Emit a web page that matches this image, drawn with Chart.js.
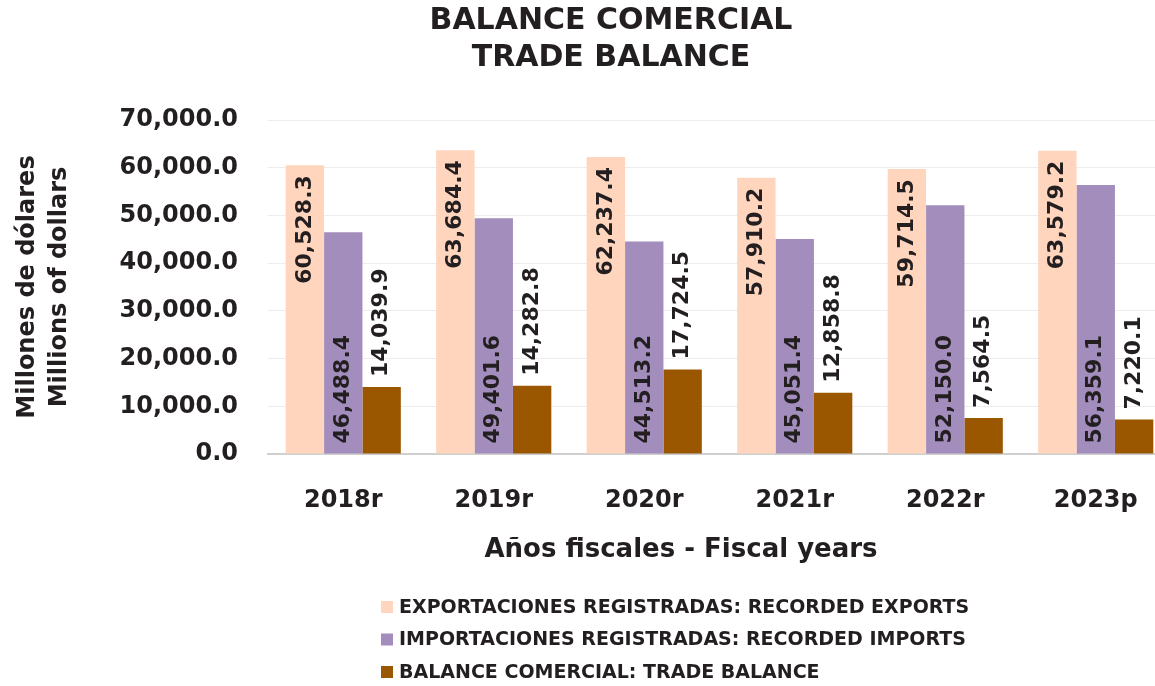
<!DOCTYPE html>
<html>
<head>
<meta charset="utf-8">
<script src="https://cdn.jsdelivr.net/npm/chart.js@4/dist/chart.umd.min.js"></script>
<style>
  html, body { margin: 0; padding: 0; background: #fff; overflow: hidden; }
  #wrap { position: relative; width: 1222px; height: 686px; }
</style>
</head>
<body>
<div id="wrap"><canvas id="tradeChart"></canvas></div>
<script>
// values (millions of dollars)
const years = ['2018r', '2019r', '2020r', '2021r', '2022r', '2023p'];
const exportsValues = [60528.3, 63684.4, 62237.4, 57910.2, 59714.5, 63579.2];
const importsValues = [46488.4, 49401.6, 44513.2, 45051.4, 52150.0, 56359.1];
const balanceValues = [14039.9, 14282.8, 17724.5, 12858.8, 7564.5, 7220.1];
const seriesNames = [
    'EXPORTACIONES REGISTRADAS: RECORDED EXPORTS',
    'IMPORTACIONES REGISTRADAS: RECORDED IMPORTS',
    'BALANCE COMERCIAL: TRADE BALANCE'
];
const yTicks = [0, 10000, 20000, 30000, 40000, 50000, 60000, 70000];

const FONT = "'DejaVu Sans', Verdana, sans-serif";
const INK = '#231f20';

Chart.defaults.color = INK;
Chart.defaults.font.family = FONT;
Chart.defaults.font.weight = 'bold';

const fmt = v => v.toLocaleString('en-US', { minimumFractionDigits: 1, maximumFractionDigits: 1 });

// rotated value labels: exports inside top, imports inside base, balance above bar
const valueLabels = {
    id: 'valueLabels',
    afterDatasetsDraw(chart) {
        const ctx = chart.ctx;
        ctx.save();
        ctx.font = 'bold 22px ' + FONT;
        ctx.fillStyle = INK;
        ctx.textBaseline = 'middle';
        chart.data.datasets.forEach((ds, i) => {
            const meta = chart.getDatasetMeta(i);
            meta.data.forEach((bar, j) => {
                let y, align;
                if (i === 0) { y = bar.y + 10; align = 'right'; }
                else if (i === 1) { y = bar.base - 10; align = 'left'; }
                else { y = bar.y - 10; align = 'left'; }
                ctx.save();
                ctx.translate(bar.x, y);
                ctx.rotate(-Math.PI / 2);
                ctx.textAlign = align;
                ctx.fillText(fmt(ds.data[j]), 0, 0);
                ctx.restore();
            });
        });
        ctx.restore();
    }
};

// x axis title and the stacked legend underneath the chart
const bottomTexts = {
    id: 'bottomTexts',
    afterDraw(chart) {
        const ctx = chart.ctx;
        ctx.save();
        ctx.fillStyle = INK;
        ctx.textBaseline = 'middle';
        ctx.textAlign = 'center';
        ctx.font = 'bold 26px ' + FONT;
        ctx.fillText('Años fiscales - Fiscal years', 681, 550);

        ctx.font = 'bold 19px ' + FONT;
        ctx.textAlign = 'left';
        chart.data.datasets.forEach((ds, i) => {
            const cy = 607 + i * 32.5;
            ctx.fillStyle = ds.backgroundColor;
            ctx.fillRect(381, cy - 6, 12, 12);
            ctx.fillStyle = INK;
            ctx.fillText(ds.label, 399, cy + 1);
        });
        ctx.restore();
    }
};

const ctx = document.getElementById('tradeChart').getContext('2d');
new Chart(ctx, {
    type: 'bar',
    data: {
        labels: years,
        datasets: [
            { label: seriesNames[0], data: exportsValues, backgroundColor: '#ffd5be' },
            { label: seriesNames[1], data: importsValues, backgroundColor: '#a28dbd' },
            { label: seriesNames[2], data: balanceValues, backgroundColor: '#9a5700' }
        ]
    },
    options: {
        responsive: true,
        maintainAspectRatio: false,
        animation: false,
        layout: { padding: { bottom: 172 } },
        datasets: {
            bar: { categoryPercentage: 0.765, barPercentage: 1.0 }
        },
        plugins: {
            legend: { display: false },
            tooltip: { enabled: false },
            title: {
                display: true,
                text: ['BALANCE COMERCIAL', 'TRADE BALANCE'],
                font: { size: 30, weight: 'bold', lineHeight: 1.25 },
                color: INK,
                padding: { top: 2, bottom: 43 }
            }
        },
        scales: {
            x: {
                grid: { display: false },
                border: { display: true, color: '#cfcfcf', width: 2 },
                ticks: { font: { size: 24, weight: 'bold' }, padding: 24 },
                afterFit(scale) { scale.height = 60; }
            },
            y: {
                min: 0,
                max: 70000,
                afterBuildTicks(scale) { scale.ticks = yTicks.map(v => ({ value: v })); },
                grid: { color: '#ededed', lineWidth: 1, drawTicks: false },
                border: { display: false },
                ticks: {
                    font: { size: 24, weight: 'bold' },
                    padding: 30,
                    callback: v => fmt(v)
                },
                title: {
                    display: true,
                    text: ['Millones de dólares', 'Millions of dollars'],
                    font: { size: 24, weight: 'bold', lineHeight: 1.33 },
                    padding: { top: 12, bottom: 0 }
                },
                afterFit(scale) { scale.width = 268; }
            },
            // empty spacer on the right so the plot ends past the visible edge like the original
            yRight: {
                position: 'right',
                grid: { display: false },
                border: { display: false },
                ticks: { display: false },
                afterFit(scale) { scale.width = 51; }
            }
        }
    },
    plugins: [valueLabels, bottomTexts]
});
</script>
</body>
</html>
